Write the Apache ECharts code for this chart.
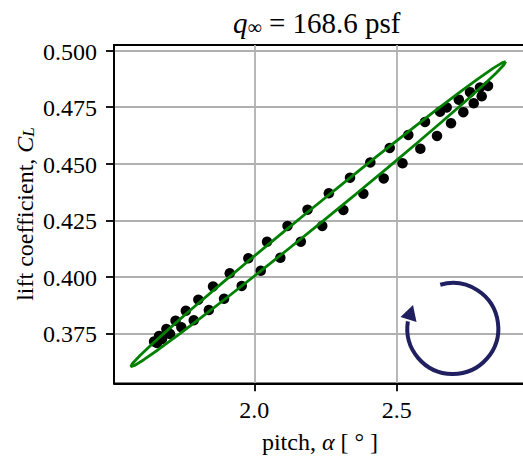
<!DOCTYPE html>
<html><head><meta charset="utf-8">
<script src="https://cdn.jsdelivr.net/npm/echarts@6/dist/echarts.min.js"></script>
<style>html,body{margin:0;padding:0;background:#fff}#c{width:523px;height:456px}</style>
</head><body><div id="c"></div>
<script>
// measured points, upper branch (pitch [deg], C_L)
const alphaUpper = [2.8209, 2.7928, 2.7576, 2.7183, 2.6758, 2.6523, 2.5996, 2.5409, 2.4756, 2.4074, 2.3361, 2.2617, 2.1869, 2.1166, 2.0446, 1.9789, 1.9136, 1.8549, 1.8033, 1.7594, 1.7232, 1.6909, 1.6653, 1.6477];
const clUpper    = [0.48439, 0.48372, 0.48165, 0.47833, 0.47488, 0.47302, 0.46846, 0.46272, 0.45697, 0.45055, 0.44383, 0.43693, 0.42968, 0.42247, 0.41548, 0.40818, 0.40155, 0.39571, 0.38987, 0.38496, 0.38058, 0.37691, 0.37382, 0.37138];
// measured points, lower branch
const alphaLower = [2.7987, 2.7706, 2.7341, 2.6909, 2.6417, 2.5831, 2.5205, 2.4545, 2.3829, 2.3126, 2.2385, 2.1633, 2.0913, 2.0225, 1.9557, 1.8936, 1.8402, 1.7871, 1.7436, 1.7039, 1.6758, 1.6582];
const clLower    = [0.47983, 0.47674, 0.47280, 0.46789, 0.46227, 0.45661, 0.45020, 0.44348, 0.43675, 0.42954, 0.42247, 0.41552, 0.40840, 0.40265, 0.39593, 0.39027, 0.38531, 0.38076, 0.37766, 0.37470, 0.37249, 0.37072];
// fitted loop (green curve)
const fitAlpha = [2.8830, 2.8762, 2.8496, 2.8040, 2.7407, 2.6619, 2.5696, 2.4669, 2.3569, 2.2428, 2.1282, 2.0165, 1.9110, 1.8152, 1.7317, 1.6633, 1.6118, 1.5790, 1.5658, 1.5726, 1.5992, 1.6448, 1.7081, 1.7869, 1.8792, 1.9819, 2.0920, 2.2060, 2.3206, 2.4323, 2.5378, 2.6336, 2.7171, 2.7856, 2.8370, 2.8698, 2.8830];
const fitCL    = [0.49514, 0.49362, 0.49010, 0.48468, 0.47753, 0.46887, 0.45895, 0.44808, 0.43659, 0.42484, 0.41318, 0.40195, 0.39150, 0.38215, 0.37419, 0.36785, 0.36333, 0.36077, 0.36024, 0.36176, 0.36528, 0.37070, 0.37785, 0.38652, 0.39643, 0.40730, 0.41879, 0.43054, 0.44220, 0.45343, 0.46388, 0.47323, 0.48119, 0.48753, 0.49205, 0.49461, 0.49514];
const xTicks = [2.0, 2.5];
const yTicks = [0.375, 0.400, 0.425, 0.450, 0.475, 0.500];
const xTickLabels = ['2.0', '2.5'];
const yTickLabels = ['0.375', '0.400', '0.425', '0.450', '0.475', '0.500'];

const FONT = '"Liberation Serif", serif';
const chart = echarts.init(document.getElementById('c'), null, {renderer: 'svg'});

const pts = [];
alphaUpper.forEach((a, i) => pts.push([a, clUpper[i]]));
alphaLower.forEach((a, i) => pts.push([a, clLower[i]]));
const fit = fitAlpha.map((a, i) => [a, fitCL[i]]);

const graphics = [
  {type: 'text', x: 316.7, y: 22, style: {
    text: '{q|q}{s|∞}{n| = 168.6 psf}', align: 'center', verticalAlign: 'middle', fill: '#000',
    rich: {
      q: {fontFamily: FONT, fontStyle: 'italic', fontSize: 29, lineHeight: 30, verticalAlign: 'bottom'},
      s: {fontFamily: FONT, fontSize: 20, lineHeight: 20, verticalAlign: 'bottom'},
      n: {fontFamily: FONT, fontSize: 29, lineHeight: 30, verticalAlign: 'bottom'}
    }}},
  {type: 'text', x: 320, y: 442, style: {
    text: '{t|pitch, }{a|α}{t| [ ° ]}', align: 'center', verticalAlign: 'middle', fill: '#000',
    rich: {
      t: {fontFamily: FONT, fontSize: 24},
      a: {fontFamily: FONT, fontSize: 24, fontStyle: 'italic'}
    }}},
  {type: 'text', x: 24, y: 214, rotation: Math.PI / 2, style: {
    text: '{t|lift coefficient, }{c|C}{l|L}', align: 'center', verticalAlign: 'middle', fill: '#000',
    rich: {
      t: {fontFamily: FONT, fontSize: 24, lineHeight: 26, verticalAlign: 'bottom'},
      c: {fontFamily: FONT, fontSize: 24, fontStyle: 'italic', lineHeight: 26, verticalAlign: 'bottom'},
      l: {fontFamily: FONT, fontSize: 17, fontStyle: 'italic', lineHeight: 17, verticalAlign: 'bottom'}
    }}},
  {type: 'arc', shape: {cx: 452.8, cy: 328.5, r: 45.5, startAngle: -106 * Math.PI / 180, endAngle: 189 * Math.PI / 180, clockwise: true},
    style: {stroke: '#202060', lineWidth: 4, fill: null}, z: 10},
  {type: 'polygon', shape: {points: [[413, 305], [400.5, 317], [416.5, 322]]}, style: {fill: '#202060'}, z: 10}
];

chart.setOption({
  animation: false,
  backgroundColor: '#fff',
  textStyle: {fontFamily: FONT},
  grid: {left: 114, top: 45, width: 425, height: 338.3, outerBoundsMode: 'none', containLabel: false,
         show: true, borderColor: '#000', borderWidth: 1.8, backgroundColor: 'transparent'},
  xAxis: {
    type: 'value', min: 1.507, max: 3.0,
    axisLine: {show: true, lineStyle: {color: '#000', width: 1.8}},
    axisTick: {show: true, customValues: xTicks, length: 8, lineStyle: {color: '#000', width: 1.8}},
    axisLabel: {show: false, color: 'rgba(0,0,0,0)'},
    splitLine: {show: true, lineStyle: {color: '#b0b0b0', width: 1.8}}
  },
  yAxis: {
    type: 'value', min: 0.3529, max: 0.5025,
    axisLine: {show: true, lineStyle: {color: '#000', width: 1.8}},
    axisTick: {show: true, customValues: yTicks, length: 8, lineStyle: {color: '#000', width: 1.8}},
    axisLabel: {show: false, color: 'rgba(0,0,0,0)'},
    splitLine: {show: true, lineStyle: {color: '#b0b0b0', width: 1.8}}
  },
  series: [
    {type: 'scatter', data: pts, symbolSize: 10.5, itemStyle: {color: '#000', opacity: 1}, z: 2},
    {type: 'line', data: fit, showSymbol: false, smooth: false, lineStyle: {color: '#008000', width: 2.8}, z: 3}
  ],
  graphic: graphics
});

// tick labels placed through the axis scales
const tickRich = {f: {fontFamily: FONT, fontSize: 24, lineHeight: 26}};
const gridBottom = chart.convertToPixel({yAxisIndex: 0}, 0.3529);
const gridLeft = chart.convertToPixel({xAxisIndex: 0}, 1.507);
xTicks.forEach((v, i) => {
  graphics.push({type: 'text', x: chart.convertToPixel({xAxisIndex: 0}, v), y: gridBottom + 27,
    style: {text: '{f|' + xTickLabels[i] + '}', rich: tickRich, fill: '#000', align: 'center', verticalAlign: 'middle'}});
});
yTicks.forEach((v, i) => {
  graphics.push({type: 'text', x: gridLeft - 17, y: chart.convertToPixel({yAxisIndex: 0}, v) + 1,
    style: {text: '{f|' + yTickLabels[i] + '}', rich: tickRich, fill: '#000', align: 'right', verticalAlign: 'middle'}});
});
chart.setOption({graphic: graphics});
</script></body></html>
